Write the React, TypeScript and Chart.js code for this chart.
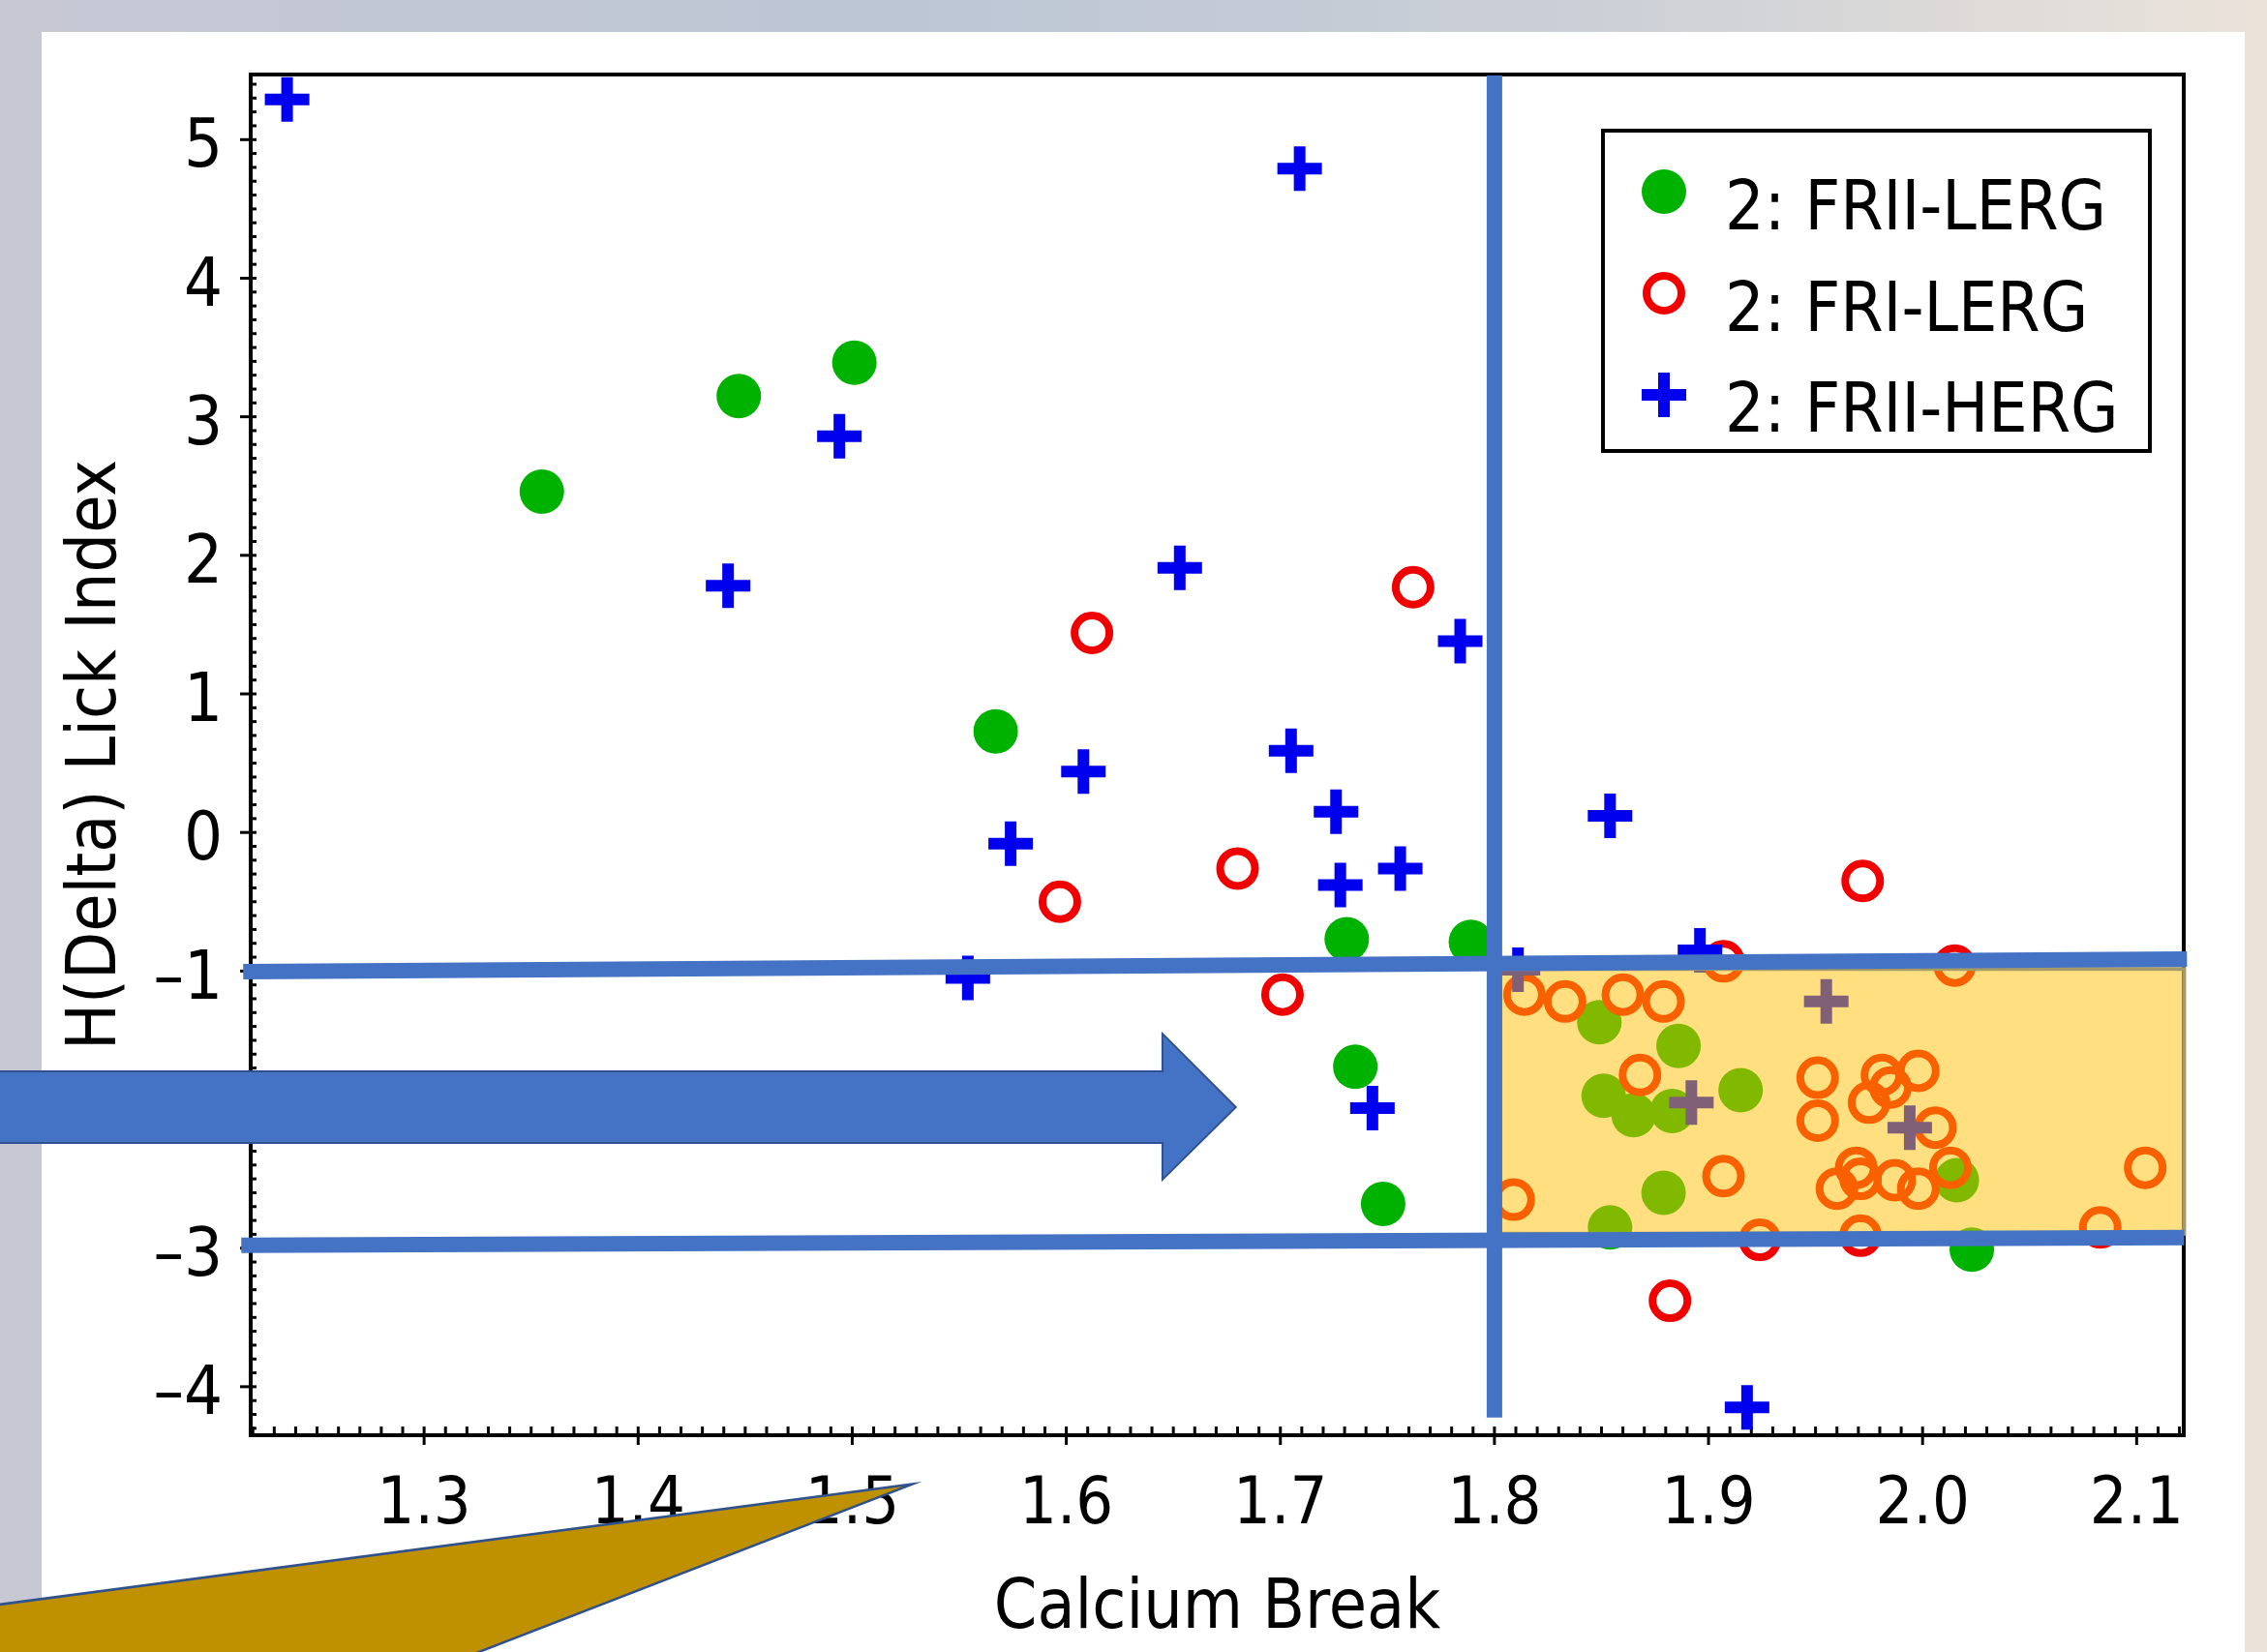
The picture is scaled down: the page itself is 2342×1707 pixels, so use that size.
import React, { useEffect, useRef } from "react";
import { Chart, registerables } from "chart.js";

Chart.register(...registerables);

const CANVAS_W = 2342;
const CANVAS_H = 1707;
const FONT = "'DejaVu Sans Condensed', 'DejaVu Sans', sans-serif";

// ---------- data ----------
const seriesLabels = ["2: FRII-LERG", "2: FRI-LERG", "2: FRII-HERG"];

const friiLergX = [1.355, 1.447, 1.501, 1.567, 1.731, 1.789, 1.735, 1.748, 1.849, 1.886, 1.851, 1.865, 1.883, 1.915, 1.879, 1.854, 2.016, 2.023];
const friiLergY = [2.46, 3.15, 3.39, 0.73, -0.77, -0.79, -1.69, -2.68, -1.37, -1.54, -1.9, -2.04, -2.01, -1.86, -2.6, -2.85, -2.51, -3.01];

const friLergX = [1.612, 1.762, 1.68, 1.597, 1.701, 1.972, 1.882, 1.907, 2.015, 1.924, 1.971, 2.083, 1.814, 1.833, 1.86, 1.879, 1.868, 1.907, 1.809, 1.951, 1.951, 1.981, 1.998, 1.985, 1.975, 2.006, 2.013, 1.969, 1.96, 1.971, 1.987, 1.998, 2.104];
const friLergY = [1.44, 1.77, -0.26, -0.5, -1.17, -0.35, -3.38, -0.93, -0.96, -2.94, -2.91, -2.85, -1.17, -1.22, -1.17, -1.22, -1.75, -2.48, -2.65, -1.77, -2.08, -1.75, -1.72, -1.84, -1.95, -2.13, -2.42, -2.42, -2.57, -2.5, -2.51, -2.57, -2.42];

const friiHergX = [1.236, 1.709, 1.494, 1.442, 1.653, 1.784, 1.608, 1.705, 1.574, 1.726, 1.728, 1.756, 1.854, 1.554, 1.743, 1.896, 1.811, 1.918, 1.955, 1.892, 1.994];
const friiHergY = [5.29, 4.79, 2.86, 1.78, 1.91, 1.38, 0.44, 0.59, -0.08, 0.15, -0.38, -0.26, 0.12, -1.05, -1.99, -0.85, -0.99, -4.15, -1.22, -1.95, -2.13];

const xAxisRange = [1.219, 2.122];
const yAxisRange = [-4.35, 5.47];
const xTickStep = 0.1;
const yTickStep = 1;
const xMinorStep = 0.01;
const yMinorStep = 0.1;
const xAxisTitle = "Calcium Break";
const yAxisTitle = "H(Delta) Lick Index";

// slide annotations, in data units
const cutLineX = 1.8;
const cutLineYEnd = -4.222;
const upperCutLine = [[1.2155, -1.005], [2.1235, -0.914]];
const lowerCutLine = [[1.2146, -2.98], [2.1222, -2.924]];
const selectionBoxX = [1.8026, 2.1222];
const selectionBoxY = [-0.985, -2.896];
const arrowX = [1.09, 1.6449, 1.6792]; // tail, head base, tip
const arrowShaftY = [-1.724, -2.24];
const arrowHeadY = [-1.452, -2.505];
const arrowTipY = -1.982;
const calloutWedge = [[1.528, -4.703], [1.0952, -5.585], [1.0952, -6.0], [1.3113, -6.0]];

// ---------- styles ----------
const GREEN = "rgb(0,178,0)";
const RED = "rgb(240,0,0)";
const BLUE = "rgb(0,0,238)";
const ACCENT = "#4472C4";
const ACCENT_DARK = "#2F528F";

const toPoints = (xs: number[], ys: number[]) => xs.map((x, i) => ({ x, y: ys[i] }));

const backgroundPlugin = {
  id: "slideBackground",
  beforeDraw(chart: any) {
    const { ctx, width, height } = chart;
    ctx.save();
    const g = ctx.createLinearGradient(0, 0, width, 0);
    g.addColorStop(0, "#c7c8d4");
    g.addColorStop(0.4, "#bcc6d5");
    g.addColorStop(0.7, "#cbcfd6");
    g.addColorStop(1, "#ebe3da");
    ctx.fillStyle = g;
    ctx.fillRect(0, 0, width, height);
    ctx.fillStyle = "#ffffff";
    ctx.fillRect(43, 33, 2319 - 43, height - 33);
    ctx.restore();
  },
};

const framePlugin = {
  id: "frameTicks",
  beforeDatasetsDraw(chart: any) {
    const { ctx, chartArea } = chart;
    const { left, right, top, bottom } = chartArea;
    const xs = chart.scales.x;
    const ys = chart.scales.y;
    ctx.save();
    ctx.strokeStyle = "#000";
    ctx.lineCap = "butt";
    ctx.lineWidth = 3;
    const x0 = Math.ceil(xAxisRange[0] / xMinorStep - 1e-6);
    const x1 = Math.floor(xAxisRange[1] / xMinorStep + 1e-6);
    for (let i = x0; i <= x1; i++) {
      const p = xs.getPixelForValue(i * xMinorStep);
      const major = i % Math.round(xTickStep / xMinorStep) === 0;
      ctx.beginPath();
      ctx.moveTo(p, major ? bottom + 10 : bottom);
      ctx.lineTo(p, bottom - 9);
      ctx.stroke();
    }
    const y0 = Math.ceil(yAxisRange[0] / yMinorStep - 1e-6);
    const y1 = Math.floor(yAxisRange[1] / yMinorStep + 1e-6);
    for (let i = y0; i <= y1; i++) {
      const p = ys.getPixelForValue(i * yMinorStep);
      const major = i % Math.round(yTickStep / yMinorStep) === 0;
      ctx.beginPath();
      ctx.moveTo(major ? left - 11 : left, p);
      ctx.lineTo(left + 6, p);
      ctx.stroke();
    }
    ctx.lineWidth = 4;
    ctx.strokeRect(left, top, right - left, bottom - top);
    ctx.restore();
  },
};

function drawMarker(ctx: CanvasRenderingContext2D, ds: any, x: number, y: number) {
  ctx.save();
  if (ds.pointStyle === "cross") {
    const r = ds.pointRadius;
    ctx.strokeStyle = ds.borderColor;
    ctx.lineWidth = ds.borderWidth;
    ctx.beginPath();
    ctx.moveTo(x - r, y);
    ctx.lineTo(x + r, y);
    ctx.moveTo(x, y - r);
    ctx.lineTo(x, y + r);
    ctx.stroke();
  } else {
    ctx.beginPath();
    ctx.arc(x, y, ds.pointRadius, 0, Math.PI * 2);
    ctx.fillStyle = ds.backgroundColor;
    ctx.fill();
    if (ds.borderWidth > 0) {
      ctx.strokeStyle = ds.borderColor;
      ctx.lineWidth = ds.borderWidth;
      ctx.stroke();
    }
  }
  ctx.restore();
}

const overlayPlugin = {
  id: "slideOverlay",
  afterDatasetsDraw(chart: any) {
    const { ctx, chartArea } = chart;
    const px = (v: number) => chart.scales.x.getPixelForValue(v);
    const py = (v: number) => chart.scales.y.getPixelForValue(v);
    ctx.save();

    // legend
    const boxW = 565;
    const boxH = 331;
    const boxLeft = chartArea.right - 35 - boxW;
    const boxTop = chartArea.top + 58;
    ctx.fillStyle = "#fff";
    ctx.fillRect(boxLeft, boxTop, boxW, boxH);
    ctx.lineWidth = 4;
    ctx.strokeStyle = "#000";
    ctx.strokeRect(boxLeft, boxTop, boxW, boxH);
    chart.data.datasets.forEach((ds: any, i: number) => {
      drawMarker(ctx, ds, boxLeft + 63, boxTop + 63 + i * 105);
      ctx.fillStyle = "#000";
      ctx.font = `71px ${FONT}`;
      ctx.textBaseline = "alphabetic";
      ctx.textAlign = "left";
      ctx.fillText(ds.label, boxLeft + 126, boxTop + 102 + i * 104.5);
    });

    // translucent selection box
    const bx0 = px(selectionBoxX[0]);
    const bx1 = px(selectionBoxX[1]);
    const by0 = py(selectionBoxY[0]);
    const by1 = py(selectionBoxY[1]);
    ctx.fillStyle = "rgba(255,192,0,0.5)";
    ctx.fillRect(bx0, by0, bx1 - bx0, by1 - by0);
    ctx.strokeStyle = "#a59b69";
    ctx.lineWidth = 4;
    ctx.strokeRect(bx0, by0, bx1 - bx0, by1 - by0);

    // cut lines
    ctx.strokeStyle = ACCENT;
    ctx.lineWidth = 16;
    ctx.lineCap = "butt";
    [upperCutLine, lowerCutLine].forEach((ln) => {
      ctx.beginPath();
      ctx.moveTo(px(ln[0][0]), py(ln[0][1]));
      ctx.lineTo(px(ln[1][0]), py(ln[1][1]));
      ctx.stroke();
    });
    ctx.beginPath();
    ctx.moveTo(px(cutLineX), chartArea.top + 1);
    ctx.lineTo(px(cutLineX), py(cutLineYEnd));
    ctx.stroke();

    // block arrow
    ctx.beginPath();
    ctx.moveTo(px(arrowX[0]), py(arrowShaftY[0]));
    ctx.lineTo(px(arrowX[1]), py(arrowShaftY[0]));
    ctx.lineTo(px(arrowX[1]), py(arrowHeadY[0]));
    ctx.lineTo(px(arrowX[2]), py(arrowTipY));
    ctx.lineTo(px(arrowX[1]), py(arrowHeadY[1]));
    ctx.lineTo(px(arrowX[1]), py(arrowShaftY[1]));
    ctx.lineTo(px(arrowX[0]), py(arrowShaftY[1]));
    ctx.closePath();
    ctx.fillStyle = ACCENT;
    ctx.fill();
    ctx.lineWidth = 2;
    ctx.strokeStyle = ACCENT_DARK;
    ctx.stroke();

    // callout wedge
    ctx.beginPath();
    calloutWedge.forEach((p, i) => {
      if (i === 0) ctx.moveTo(px(p[0]), py(p[1]));
      else ctx.lineTo(px(p[0]), py(p[1]));
    });
    ctx.closePath();
    ctx.fillStyle = "#BF9000";
    ctx.fill();
    ctx.lineWidth = 2.5;
    ctx.strokeStyle = ACCENT_DARK;
    ctx.stroke();

    ctx.restore();
  },
};

export default function App() {
  const canvasRef = useRef<HTMLCanvasElement | null>(null);

  useEffect(() => {
    const canvas = canvasRef.current;
    if (!canvas) return;
    const tickFontX = { family: FONT, size: 68 };
    const tickFontY = { family: FONT, size: 70 };
    const titleFont = { family: FONT, size: 71 };
    const chart = new Chart(canvas, {
      type: "scatter",
      data: {
        datasets: [
          {
            label: seriesLabels[0],
            data: toPoints(friiLergX, friiLergY),
            pointStyle: "circle",
            pointRadius: 23,
            backgroundColor: GREEN,
            borderColor: GREEN,
            borderWidth: 0,
            order: 3,
          },
          {
            label: seriesLabels[1],
            data: toPoints(friLergX, friLergY),
            pointStyle: "circle",
            pointRadius: 18,
            backgroundColor: "rgba(0,0,0,0)",
            borderColor: RED,
            borderWidth: 8,
            order: 2,
          },
          {
            label: seriesLabels[2],
            data: toPoints(friiHergX, friiHergY),
            pointStyle: "cross",
            pointRadius: 23,
            backgroundColor: BLUE,
            borderColor: BLUE,
            borderWidth: 12,
            order: 1,
          },
        ] as any,
      },
      options: {
        responsive: false,
        maintainAspectRatio: false,
        animation: false,
        devicePixelRatio: 1,
        events: [],
        layout: { padding: { left: 45, top: 77, right: 86, bottom: 0 } },
        plugins: { legend: { display: false }, tooltip: { enabled: false } },
        scales: {
          x: {
            type: "linear",
            min: xAxisRange[0],
            max: xAxisRange[1],
            afterFit: (s: any) => {
              s.height = 224;
            },
            grid: { display: false, drawTicks: false },
            border: { display: false },
            ticks: {
              stepSize: xTickStep,
              includeBounds: false,
              autoSkip: false,
              maxRotation: 0,
              minRotation: 0,
              padding: 33,
              color: "#000",
              font: tickFontX,
              callback: (v: any) => Number(v).toFixed(1),
            },
            title: { display: true, text: xAxisTitle, color: "#000", font: titleFont, padding: { top: 0, bottom: 1 } },
          },
          y: {
            type: "linear",
            min: yAxisRange[0],
            max: yAxisRange[1],
            afterFit: (s: any) => {
              s.width = 214;
            },
            grid: { display: false, drawTicks: false },
            border: { display: false },
            ticks: {
              stepSize: yTickStep,
              includeBounds: false,
              autoSkip: false,
              padding: 29,
              labelOffset: 10,
              color: "#000",
              font: tickFontY,
              callback: (v: any) => {
                const n = Math.round(Number(v));
                return n < 0 ? "\u2013" + Math.abs(n) : String(n);
              },
            },
            title: { display: true, text: yAxisTitle, color: "#000", font: titleFont, padding: { top: 13, bottom: 0 } },
          },
        },
      } as any,
      plugins: [backgroundPlugin, framePlugin, overlayPlugin] as any,
    });
    return () => chart.destroy();
  }, []);

  return (
    <div style={{ position: "absolute", left: 0, top: 0, width: CANVAS_W, height: CANVAS_H, overflow: "hidden" }}>
      <canvas ref={canvasRef} width={CANVAS_W} height={CANVAS_H} style={{ display: "block", width: CANVAS_W, height: CANVAS_H }} />
    </div>
  );
}
